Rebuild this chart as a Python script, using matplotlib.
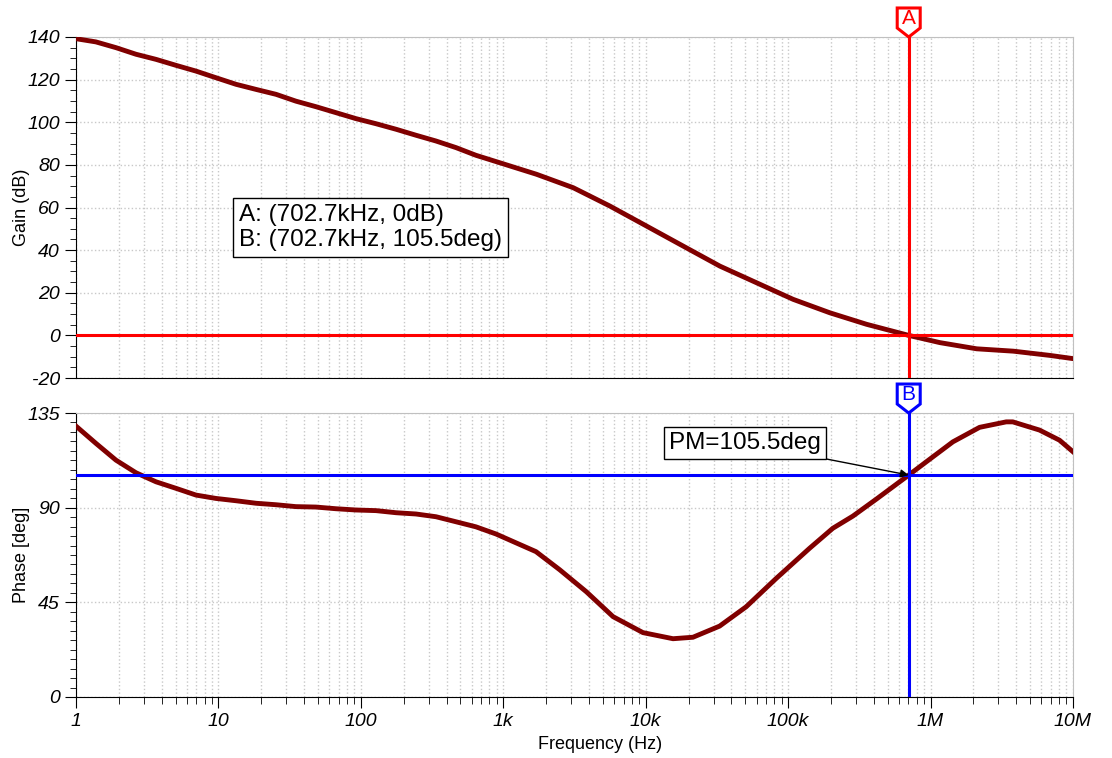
"""Bode plot with gain / phase margin cursors"""

import matplotlib
matplotlib.use("Agg")
import matplotlib.pyplot as plt
import matplotlib.ticker as mticker
import matplotlib.transforms as mtransforms
from matplotlib.patches import Polygon
import numpy as np

# gain curve
gain_freq = [1, 1.38, 1.91, 2.64, 3.65, 5.04, 6.96, 9.6, 13.3, 18.4, 25.4, 35, 48.4,
             66.9, 92.4, 128, 177, 244, 337, 466, 643, 945, 1710, 3097, 5600,
             10140, 18330, 33190, 60000, 108600, 196400, 355600, 702.7e3, 1.164e6,
             2.11e6, 3.81e6, 6.9e6, 1e7]
gain_db = [139.2, 137.7, 135, 131.9, 129.5, 126.7, 124, 120.9, 117.8, 115.4, 113.1,
           109.9, 107.3, 104.5, 101.7, 99.3, 96.7, 93.9, 91.2, 88.1, 84.5, 81,
           75.6, 69.3, 60.7, 51.3, 41.9, 32.5, 24.7, 16.9, 10.6, 5.2, 0, -3.4,
           -6.3, -7.4, -9.4, -10.9]

# phase curve
phase_freq = [1, 1.38, 1.91, 2.64, 3.65, 5.04, 6.96, 9.6, 13.3, 18.4, 25.4, 35,
              48.4, 66.9, 92.4, 128, 177, 244, 337, 466, 643, 889, 1228, 1698,
              2490, 3836, 5900, 9570, 15560, 21480, 33050, 50800, 82600, 141500,
              206000, 285000, 415000, 702.7e3, 933000, 1.435e6, 2.21e6, 3.4e6,
              3.78e6, 5.82e6, 8.04e6, 1e7]
phase_deg = [128.8, 120.6, 112.6, 106.6, 102.3, 99.2, 96, 94.4, 93.3, 92.1, 91.4,
             90.5, 90.3, 89.5, 88.9, 88.6, 87.6, 87, 85.7, 83.3, 80.9, 77.5, 73.3,
             69.1, 60.5, 50, 38.2, 30.6, 27.7, 28.4, 33.7, 42.9, 56.4, 70.7, 80.2,
             86, 94, 105.5, 111.8, 121.3, 128.2, 130.8, 130.8, 126.9, 122.1, 116.6]

cursor_f = 702.7e3
cursor_gain = 0
cursor_phase = 105.5
x_ticks = [1, 10, 100, 1e3, 1e4, 1e5, 1e6, 1e7]
x_labels = ["1", "10", "100", "1k", "10k", "100k", "1M", "10M"]

plt.rcParams["font.family"] = ["Liberation Sans", "DejaVu Sans"]
plt.rcParams["axes.unicode_minus"] = False

fig = plt.figure(figsize=(11.12, 7.58), dpi=100)
ax1 = fig.add_axes([0.0683, 0.5013, 0.8966, 0.4499])
ax2 = fig.add_axes([0.0683, 0.0805, 0.8966, 0.3746])

curve_color = "#800000"
grid_kw = dict(color="#c8c8c8", linestyle=":", linewidth=1.0)


def style_axes(ax):
    ax.set_xscale("log")
    ax.set_xlim(1, 1e7)
    ax.xaxis.set_major_locator(mticker.FixedLocator(x_ticks))
    ax.xaxis.set_minor_locator(mticker.LogLocator(base=10, subs=np.arange(2, 10), numticks=20))
    ax.xaxis.set_minor_formatter(mticker.NullFormatter())
    ax.grid(True, which="both", axis="x", **grid_kw)
    ax.grid(True, which="major", axis="y", **grid_kw)
    for s in ("top", "right"):
        ax.spines[s].set_color("#c0c0c0")
    for s in ("left", "bottom"):
        ax.spines[s].set_color("black")
    ax.tick_params(axis="y", which="major", direction="out", length=8, labelsize=14)
    ax.tick_params(axis="y", which="minor", direction="out", length=4)


def cursor_flag(ax, x, letter, color):
    trans = fig.dpi_scale_trans + mtransforms.ScaledTranslation(x, 1.0, ax.get_xaxis_transform())
    # pentagon flag, sizes in inches (1 px = 0.01 in)
    verts = [(-0.115, 0.09), (-0.115, 0.29), (0.115, 0.29), (0.115, 0.09), (0.0, 0.0)]
    poly = Polygon(verts, closed=True, facecolor="white", edgecolor=color,
                   linewidth=2.2, transform=trans, clip_on=False, zorder=5)
    ax.add_patch(poly)
    ax.text(0, 0.185, letter, transform=trans, ha="center", va="center",
            color=color, fontsize=15, zorder=6)


# gain plot
style_axes(ax1)
ax1.plot(gain_freq, gain_db, color=curve_color, linewidth=3.5, zorder=3)
ax1.set_ylim(-20, 140)
ax1.yaxis.set_major_locator(mticker.MultipleLocator(20))
ax1.yaxis.set_minor_locator(mticker.MultipleLocator(5))
ax1.tick_params(axis="x", which="both", length=0, labelbottom=False)
for lbl in ax1.get_yticklabels():
    lbl.set_fontstyle("italic")
ax1.set_ylabel("Gain (dB)", fontsize=13)
ax1.yaxis.set_label_coords(-0.046, 0.5)
ax1.axhline(cursor_gain, color="red", linewidth=2.2, zorder=4)
ax1.axvline(cursor_f, color="red", linewidth=2.2, zorder=4)
cursor_flag(ax1, cursor_f, "A", "red")
ax1.text(0.1635, 0.441,
         f"A: ({cursor_f / 1e3:.1f}kHz, {cursor_gain}dB)\nB: ({cursor_f / 1e3:.1f}kHz, {cursor_phase}deg)",
         transform=ax1.transAxes, fontsize=17.5, va="center", ha="left", linespacing=1.15,
         bbox=dict(boxstyle="square,pad=0.25", facecolor="white", edgecolor="black", linewidth=1),
         zorder=6)

# phase plot
style_axes(ax2)
ax2.plot(phase_freq, phase_deg, color=curve_color, linewidth=3.5, zorder=3)
ax2.set_ylim(0, 135)
ax2.yaxis.set_major_locator(mticker.MultipleLocator(45))
ax2.yaxis.set_minor_locator(mticker.MultipleLocator(4.5))
ax2.xaxis.set_major_formatter(mticker.FixedFormatter(x_labels))
ax2.tick_params(axis="x", which="major", direction="out", length=8, labelsize=14)
ax2.tick_params(axis="x", which="minor", direction="out", length=5)
for lbl in ax2.get_yticklabels() + ax2.get_xticklabels():
    lbl.set_fontstyle("italic")
ax2.set_ylabel("Phase [deg]", fontsize=13)
ax2.yaxis.set_label_coords(-0.046, 0.5)
ax2.set_xlabel("Frequency (Hz)", fontsize=13)
ax2.xaxis.set_label_coords(0.526, -0.138)
ax2.xaxis.label.set_verticalalignment("top")
ax2.axhline(cursor_phase, color="blue", linewidth=2.2, zorder=4)
ax2.axvline(cursor_f, color="blue", linewidth=2.2, zorder=4)
cursor_flag(ax2, cursor_f, "B", "blue")
ax2.annotate(f"PM={cursor_phase}deg", xy=(cursor_f, cursor_phase),
             xytext=(0.595, 0.894), textcoords="axes fraction",
             fontsize=17.5, ha="left", va="center",
             bbox=dict(boxstyle="square,pad=0.2", facecolor="white", edgecolor="black", linewidth=1),
             arrowprops=dict(arrowstyle="-|>", color="black", linewidth=1, shrinkA=0, shrinkB=0,
                             mutation_scale=12),
             zorder=6)

fig.savefig("out.png", dpi=100)
